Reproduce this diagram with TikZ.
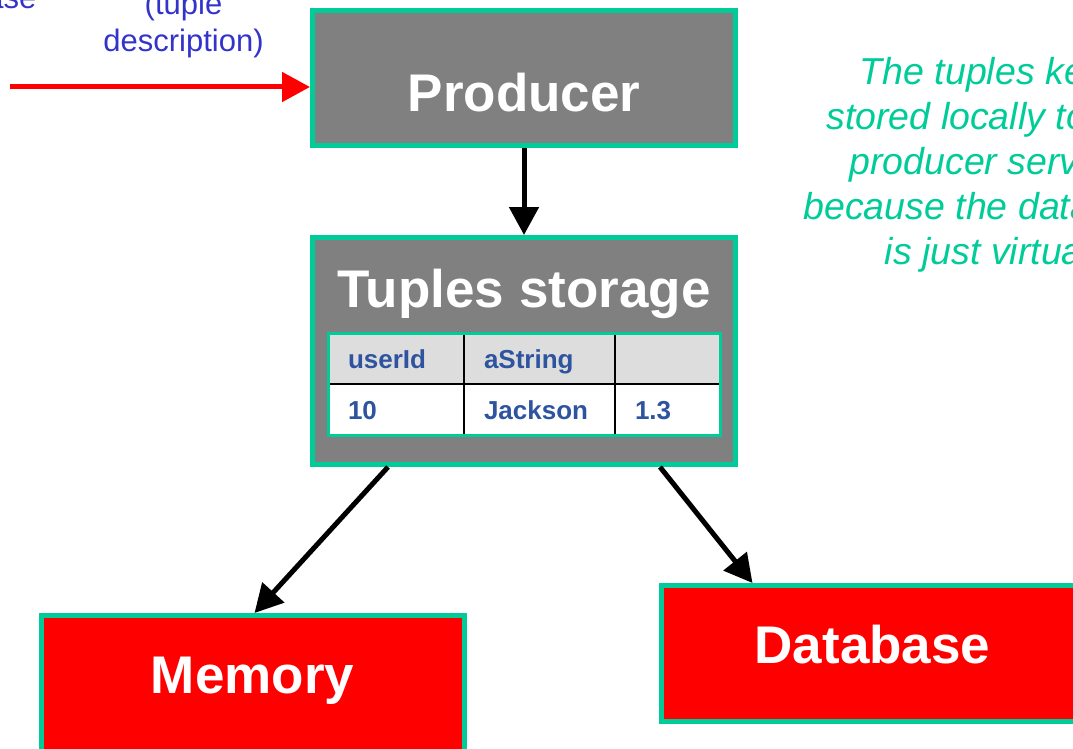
\documentclass[tikz,border=0pt]{standalone}
\usepackage{fontspec}
\setmainfont{Liberation Sans}
\usetikzlibrary{arrows.meta,positioning}

\definecolor{frame}{RGB}{0,204,153}
\definecolor{boxgray}{RGB}{128,128,128}
\definecolor{headgray}{RGB}{221,221,221}
\definecolor{cellblue}{RGB}{46,84,160}
\definecolor{noteblue}{RGB}{51,51,204}

\begin{document}
\begin{tikzpicture}[x=1pt,y=-1pt,node distance=0pt,
    boxtext/.style={text=white,font=\fontsize{53}{60}\selectfont\bfseries},
    box/.style={boxtext,draw=frame,line width=5pt,inner sep=0pt,minimum width=423pt},
    graybox/.style={box,fill=boxgray},
    redbox/.style={box,fill=red,minimum height=136pt,text height=38pt,text depth=19pt},
    cell/.style={draw=black,line width=2pt,outer sep=0pt,inner xsep=20pt,inner ysep=0pt,
        minimum height=51pt,text height=19pt,text depth=0pt,align=left,
        text=cellblue,font=\fontsize{26}{30}\selectfont\bfseries},
    flow/.style={line width=5pt,-{Triangle[length=28pt,width=29pt]}}]
   \useasboundingbox (0,0) rectangle (1073,749);
   \clip (0,0) rectangle (1073,749);

   \node[graybox,minimum height=135pt,text height=68pt,text depth=0pt] (producer) at (524,78) {Producer};
   \node[graybox,minimum height=227pt] (storage) at (524,351) {};
   \node[boxtext,anchor=base] (title) at (524,307) {Tuples storage};

   % table of the stored tuples
   \node[cell,fill=headgray,text width=96pt,anchor=north west] (c_11) at (328,333) {userId};
   \node[cell,fill=headgray,text width=111pt,right=of c_11] (c_12) {aString};
   \node[cell,fill=headgray,text width=65pt,right=of c_12] (c_13) {};
   \node[cell,fill=white,text width=96pt,below=of c_11] (c_21) {10};
   \node[cell,fill=white,text width=111pt,right=of c_21] (c_22) {Jackson};
   \node[cell,fill=white,text width=65pt,right=of c_22] (c_23) {1.3};
   \draw[frame,line width=3pt] (c_11.north west) rectangle (c_23.south east);

   \node[redbox] (memory) at (252.5,683.5) {Memory};
   \node[redbox] (database) at (872.5,653.5) {Database};

   \coordinate (feed) at (10,87);
   \draw[flow,red] (feed) -- (feed -| producer.west);
   \draw[flow] (producer.south) -- (storage.north);
   \draw[flow] ([xshift=-136pt]storage.south) -- ([xshift=2pt]memory.north);
   \draw[flow] ([xshift=136pt]storage.south) -- ([xshift=-120pt]database.north);

   \node[anchor=base east,text=noteblue,font=\fontsize{31}{37}\selectfont] (prev) at (40,9) {ase};
   \node[anchor=base,align=center,text=noteblue,font=\fontsize{31}{37}\selectfont] (desc) at (183.5,52)
      {(tuple\\description)};
   \node[anchor=base,align=center,text=frame,font=\fontsize{37.5}{45}\selectfont\itshape] (remark) at (988,264)
      {The tuples kept\\stored locally to the\\producer service\\because the database\\is just virtual};
\end{tikzpicture}
\end{document}
